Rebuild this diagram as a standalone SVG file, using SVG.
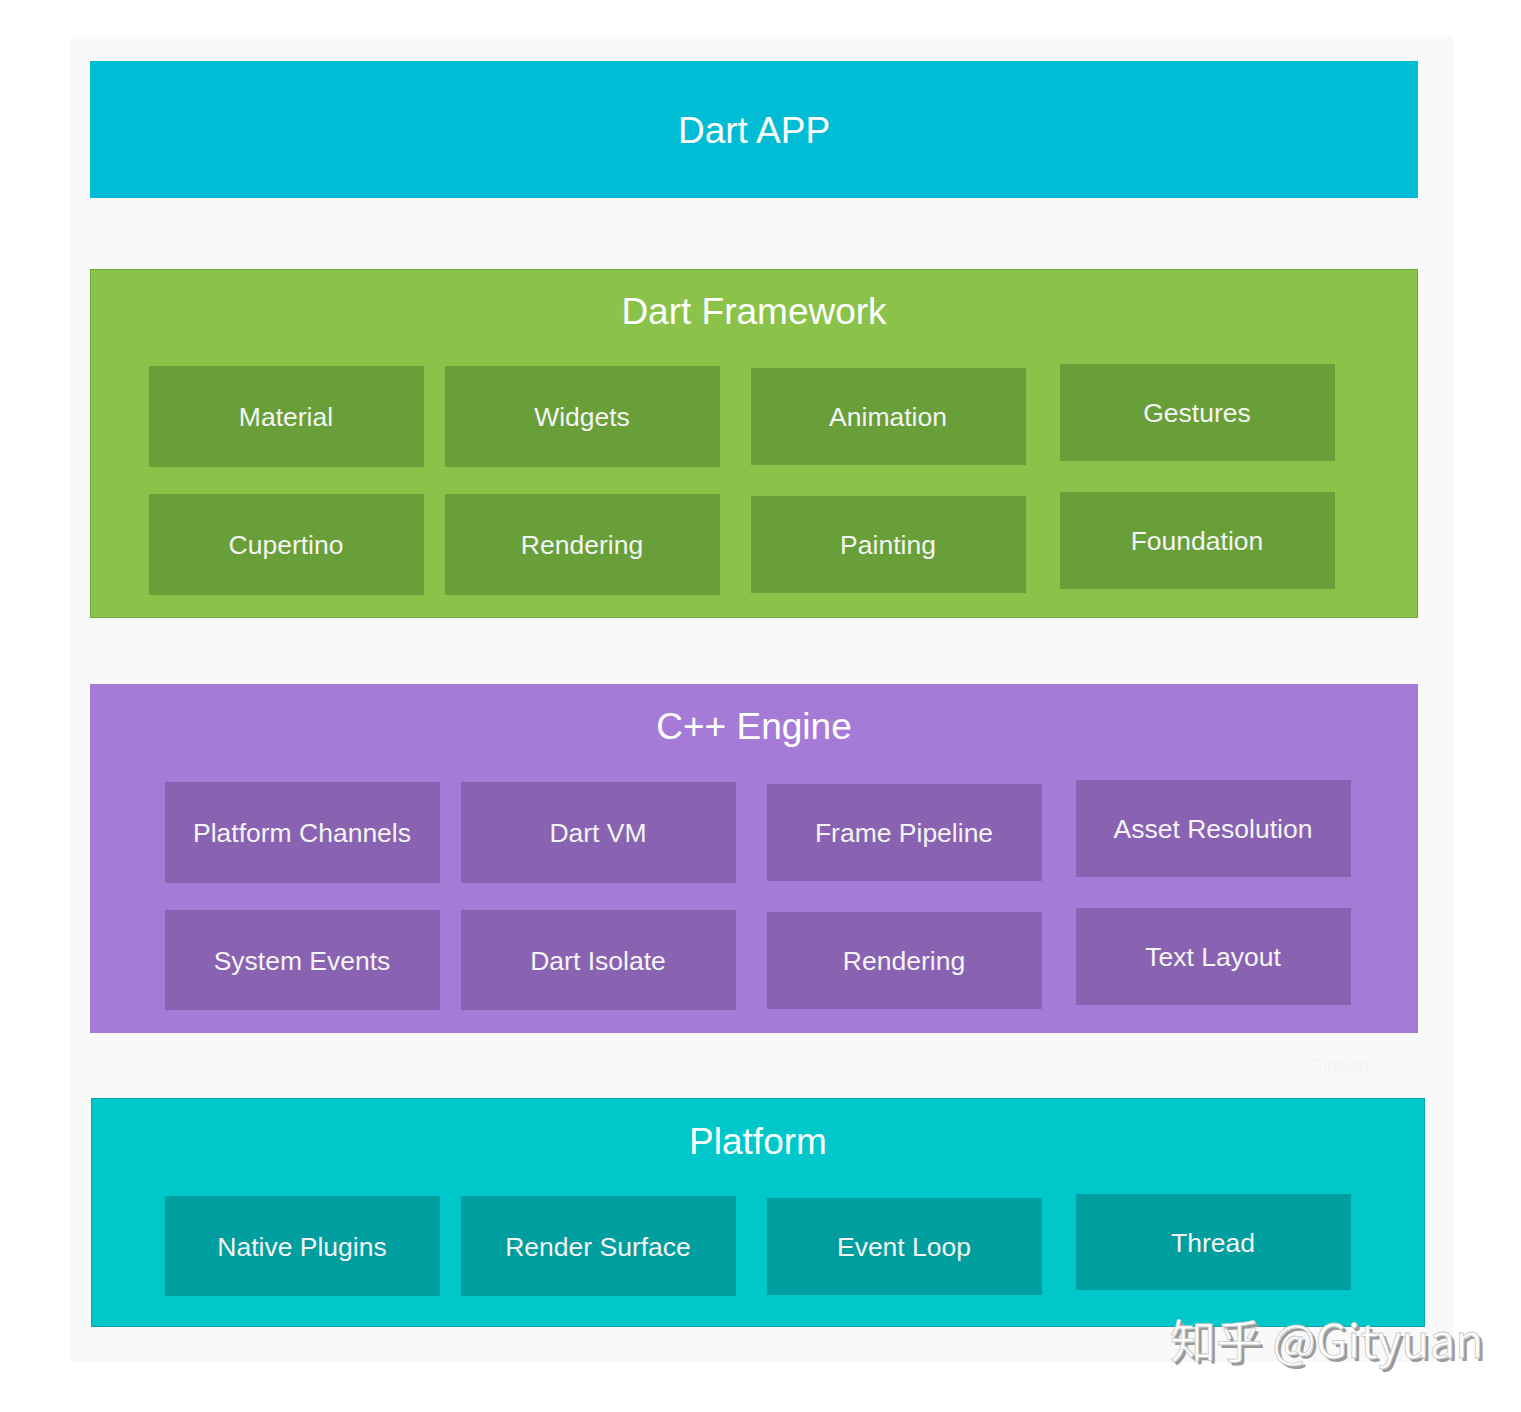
<svg xmlns="http://www.w3.org/2000/svg" width="1521" height="1412" viewBox="0 0 1521 1412">
<style>
text{font-family:"Liberation Sans",Arial,sans-serif;text-anchor:middle;dominant-baseline:central}
.title{font-size:37px;fill:#ffffff}
.lbl{font-size:26.5px;fill:#f4f4f4}
.g{fill:#689F38}
.p{fill:#8962B2}
.t{fill:#009E9F}
.wm{font-family:"Noto Sans CJK SC","Noto Sans",sans-serif;font-size:46px;text-anchor:start;dominant-baseline:auto}
</style>
<rect width="1521" height="1412" fill="#ffffff"/>
<rect x="70" y="37" width="1383" height="1325" fill="#f9f9f9"/>
<g id="dart-app">
<rect x="90" y="61" width="1328" height="137" fill="#00BCD4"/>
<text class="title" x="754" y="130">Dart APP</text>
</g>
<g id="dart-framework">
<rect x="90.5" y="269.5" width="1327" height="348" fill="#8BC34A" stroke="#72A93D" stroke-width="1"/>
<text class="title" x="754" y="311">Dart Framework</text>
<g id="material"><rect class="g" x="149" y="366" width="275" height="101"/><text class="lbl" x="286" y="417">Material</text></g>
<g id="widgets"><rect class="g" x="445" y="366" width="275" height="101"/><text class="lbl" x="582" y="417">Widgets</text></g>
<g id="animation"><rect class="g" x="751" y="368" width="275" height="97"/><text class="lbl" x="888" y="417">Animation</text></g>
<g id="gestures"><rect class="g" x="1060" y="364" width="275" height="97"/><text class="lbl" x="1197" y="413">Gestures</text></g>
<g id="cupertino"><rect class="g" x="149" y="494" width="275" height="101"/><text class="lbl" x="286" y="545">Cupertino</text></g>
<g id="rendering-fw"><rect class="g" x="445" y="494" width="275" height="101"/><text class="lbl" x="582" y="545">Rendering</text></g>
<g id="painting"><rect class="g" x="751" y="496" width="275" height="97"/><text class="lbl" x="888" y="545">Painting</text></g>
<g id="foundation"><rect class="g" x="1060" y="492" width="275" height="97"/><text class="lbl" x="1197" y="541">Foundation</text></g>
</g>
<g id="cpp-engine">
<rect x="90" y="684" width="1328" height="349" fill="#A67BD7"/>
<text class="title" x="754" y="726">C++ Engine</text>
<g id="platform-channels"><rect class="p" x="165" y="782" width="275" height="101"/><text class="lbl" x="302" y="833">Platform Channels</text></g>
<g id="dart-vm"><rect class="p" x="461" y="782" width="275" height="101"/><text class="lbl" x="598" y="833">Dart VM</text></g>
<g id="frame-pipeline"><rect class="p" x="767" y="784" width="275" height="97"/><text class="lbl" x="904" y="833">Frame Pipeline</text></g>
<g id="asset-resolution"><rect class="p" x="1076" y="780" width="275" height="97"/><text class="lbl" x="1213" y="829">Asset Resolution</text></g>
<g id="system-events"><rect class="p" x="165" y="910" width="275" height="100"/><text class="lbl" x="302" y="961">System Events</text></g>
<g id="dart-isolate"><rect class="p" x="461" y="910" width="275" height="100"/><text class="lbl" x="598" y="961">Dart Isolate</text></g>
<g id="rendering-engine"><rect class="p" x="767" y="912" width="275" height="97"/><text class="lbl" x="904" y="961">Rendering</text></g>
<g id="text-layout"><rect class="p" x="1076" y="908" width="275" height="97"/><text class="lbl" x="1213" y="957">Text Layout</text></g>
</g>
<text x="1339" y="1065" style="font-size:17px;fill:#f3f3f3">Gityuan</text>
<g id="platform">
<rect x="91.5" y="1098.5" width="1333" height="228" fill="#00C8CA" stroke="#0AA5A8" stroke-width="1"/>
<text class="title" x="758" y="1141">Platform</text>
<g id="native-plugins"><rect class="t" x="165" y="1196" width="275" height="100"/><text class="lbl" x="302" y="1247">Native Plugins</text></g>
<g id="render-surface"><rect class="t" x="461" y="1196" width="275" height="100"/><text class="lbl" x="598" y="1247">Render Surface</text></g>
<g id="event-loop"><rect class="t" x="767" y="1198" width="275" height="97"/><text class="lbl" x="904" y="1247">Event Loop</text></g>
<g id="thread"><rect class="t" x="1076" y="1194" width="275" height="96"/><text class="lbl" x="1213" y="1243">Thread</text></g>
</g>
<g id="watermark">
<text class="wm" x="1173" y="1361" fill="#9a9a9a">知乎 @Gityuan</text>
<text class="wm" x="1170" y="1358" fill="#ffffff" stroke="#c8c8c8" stroke-width="0.8">知乎 @Gityuan</text>
</g>
</svg>
